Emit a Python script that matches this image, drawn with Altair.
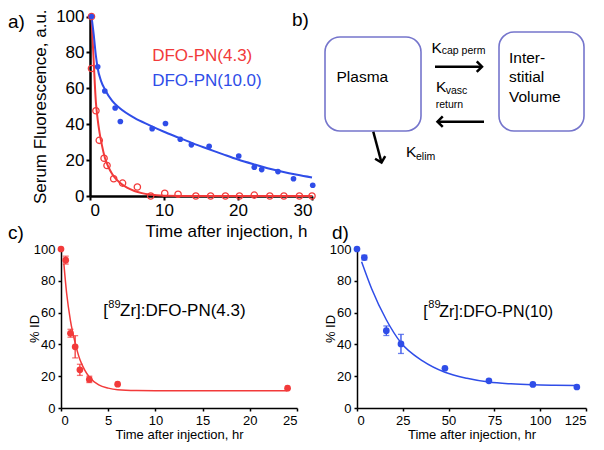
import altair as alt
import pandas as pd

FONT = "Liberation Sans"
RED = "#f23a3a"
BLUE = "#2f4de8"
BOXC = "#7575cc"
W, H = 588, 434  # whole drawing area (page minus 8px margin)

# ---------------- panel a: serum fluorescence ----------------
a_red_t = [0.2, 0.2, 0.8, 1.25, 1.9, 2.3, 3.2, 4.4, 6.4, 8.2, 10.1, 11.9, 14.3, 16.3, 18.3, 20.2, 22.2, 24.3, 26.2, 28.3, 30.0]
a_red_v = [100, 71, 47.5, 31, 21, 17, 9.6, 7.2, 5, 0, 1.5, 1, 0, 0, 0, 0, 0.5, 0, 0, 0, 0]
a_blue_t = [0.2, 1.04, 2.0, 3.4, 4.1, 8.4, 10.2, 12.2, 13.7, 16.1, 20.1, 22.2, 23.2, 25.4, 27.5, 30.1]
a_blue_v = [100, 72, 58.5, 49, 41.5, 37.5, 40.4, 31.6, 28.5, 27.7, 22.3, 16, 14.7, 13.6, 9.6, 6]
a_blue_fit_t = [0.2, 0.5, 0.8, 1.0, 1.5, 2.0, 3.0, 4.0, 6.0, 8.0, 10, 12, 14, 16, 18, 20, 22, 24, 26, 28, 30]
a_blue_fit_v = [100, 90, 78, 72, 64, 59.5, 53, 49, 43.5, 39.5, 35.8, 32.5, 29.2, 26.2, 23.2, 20.3, 17.8, 15.5, 13.5, 11.8, 10.3]
a_red_fit_t = [0.2, 0.5, 0.8, 1.0, 1.3, 1.6, 2.0, 2.5, 3.0, 3.5, 4.0, 5.0, 6.0, 7.0, 8.0, 9.0, 10, 15, 20, 25, 30]
a_red_fit_v = [100, 75, 52, 44, 35, 28.5, 21.5, 16, 12.3, 9.5, 7.5, 4.6, 2.8, 1.6, 0.8, 0.4, 0.2, 0, 0, 0, 0]
a_leg_text = ["DFO-PN(4.3)", "DFO-PN(10.0)"]
a_leg_t = [8.4, 8.4]
a_leg_v = [78, 64]
a_leg_color = [RED, BLUE]

# ---------------- panel b: compartment diagram (diagram units) ----------------
b_box_x1 = [325, 499]
b_box_x2 = [421, 584]
b_box_y1 = [37, 32]
b_box_y2 = [131, 131]
b_text = ["Plasma", "Inter-", "stitial", "Volume", "K", "K", "K"]
b_text_x = [336.5, 509, 509, 509, 431.5, 436, 406]
b_text_y = [82, 62.5, 81.5, 101.5, 52.5, 92, 157.3]
b_sub = ["cap perm", "vasc", "return", "elim"]
b_sub_x = [441.7, 445.7, 435.7, 416]
b_sub_y = [54, 93.5, 108.3, 159.5]
b_arr_x1 = [435, 484, 373.3]
b_arr_y1 = [66.7, 121.7, 131.7]
b_arr_x2 = [482, 437.5, 381.5]
b_arr_y2 = [66.7, 121.7, 162.5]
b_arr_angle = [0, 180, 75]

# ---------------- panel c ----------------
c_t = [0, 0.5, 1.0, 1.5, 2.0, 3.0, 6.0, 24]
c_v = [100, 93, 47, 38.5, 24, 18, 15, 12.5]
c_err = [0, 2.5, 2.5, 7, 3.5, 2, 0, 0]
c_fit_t = [0.3, 0.6, 1.0, 1.5, 2.0, 2.5, 3.0, 4.0, 5.0, 6.0, 8.0, 10, 15, 20, 24]
c_fit_v = [91, 72, 55, 41, 30.5, 24, 19.5, 14.5, 12.5, 11.5, 11, 10.9, 10.8, 10.8, 10.8]
c_lab_t = [4.48, 5.01, 6.25]
c_lab_v = [57.8, 62.6, 57.8]
c_lab = ["[", "89", "Zr]:DFO-PN(4.3)"]
c_lab_size = [17, 11, 17]

# ---------------- panel d ----------------
d_t = [0, 4, 16, 24, 48, 72, 96, 120]
d_v = [100, 94.6, 48.6, 40.3, 25, 17.1, 14.8, 13.2]
d_err = [0, 1.5, 3, 6, 0, 0, 0, 0]
d_fit_t = [2.5, 8, 16, 24, 36, 48, 60, 72, 84, 96, 108, 120]
d_fit_v = [92, 75, 55.5, 41, 29.5, 22.5, 18.7, 16.3, 15.2, 14.6, 14.3, 14.1]
d_lab_t = [36.2, 38.9, 44.9]
d_lab_v = [57.3, 62.6, 57.3]
d_lab = ["[", "89", "Zr]:DFO-PN(10)"]
d_lab_size = [16, 11, 16]

# panel letters
letters = ["a)", "b)", "c)", "d)"]
letter_px = [0, 284, 0, 324]
letter_py = [14, 12, 225, 225]


def axis(values, title, big, **kw):
    fs = 17 if big else 13
    return alt.Axis(values=values, title=title, grid=False, domainColor="black",
                    domainWidth=2.5 if big else 1.5, tickColor="black", tickWidth=2 if big else 1.5,
                    tickSize=4 if big else 3, labelFontSize=fs, labelColor="black", labelFont=FONT,
                    titleFont=FONT, titleFontSize=fs, titleFontWeight="normal", titleColor="black",
                    labelPadding=2 if big else 3, labelOverlap=False, **kw)


# ---- panel a  (plot box: x 82..304, y 8.5..188 in drawing coords)
sxa = alt.Scale(domain=[0, 30], range=[82, 304], nice=False)
sya = alt.Scale(domain=[0, 100], range=[188, 8.5], nice=False)
axa = axis([0, 10, 20, 30], "Time after injection, h", True, orient="bottom", offset=188 - H,
           titleX=218, titleY=40, titleBaseline="alphabetic")
aya = axis([0, 20, 40, 60, 80, 100], "Serum Fluorescence, a.u.", True, orient="left", offset=-82,
           titleX=-45, titleBaseline="alphabetic")
xa = alt.X("t:Q", scale=sxa, axis=axa)
ya = alt.Y("v:Q", scale=sya, axis=aya)

a_blue_fit = alt.Chart(pd.DataFrame({"t": a_blue_fit_t, "v": a_blue_fit_v})).mark_line(
    color=BLUE, strokeWidth=2, interpolate="monotone").encode(x=xa, y=ya)
a_red_fit = alt.Chart(pd.DataFrame({"t": a_red_fit_t, "v": a_red_fit_v})).mark_line(
    color=RED, strokeWidth=2, interpolate="monotone").encode(x=xa, y=ya)
a_blue_pts = alt.Chart(pd.DataFrame({"t": a_blue_t, "v": a_blue_v})).mark_point(
    shape="circle", filled=True, color=BLUE, size=32, opacity=1).encode(x=xa, y=ya)
a_red_pts = alt.Chart(pd.DataFrame({"t": a_red_t, "v": a_red_v})).mark_point(
    shape="circle", filled=False, color=RED, size=40, strokeWidth=1.3, opacity=1).encode(x=xa, y=ya)
a_leg = alt.Chart(pd.DataFrame({"t": a_leg_t, "v": a_leg_v, "lab": a_leg_text, "c": a_leg_color})).mark_text(
    font=FONT, fontSize=17, align="left", baseline="middle").encode(
    x=xa, y=ya, text="lab:N", color=alt.Color("c:N", scale=None))
panel_a = alt.layer(a_red_fit, a_blue_fit, a_red_pts, a_blue_pts, a_leg)

# ---- panel b (diagram units = page pixels)
sxb = alt.Scale(domain=[300, 600], range=[292, 592], nice=False, zero=False)
syb = alt.Scale(domain=[0, 200], range=[-8, 192], nice=False, zero=False)
b_boxes = alt.Chart(pd.DataFrame({"x": b_box_x1, "x2": b_box_x2, "y": b_box_y1, "y2": b_box_y2})).mark_rect(
    cornerRadius=15, fill="white", stroke=BOXC, strokeWidth=1.6).encode(
    x=alt.X("x:Q", scale=sxb, axis=None), x2="x2:Q", y=alt.Y("y:Q", scale=syb, axis=None), y2="y2:Q")
b_main = alt.Chart(pd.DataFrame({"x": b_text_x, "y": b_text_y, "lab": b_text})).mark_text(
    font=FONT, fontSize=15.5, align="left", baseline="alphabetic", color="black").encode(
    x=alt.X("x:Q", scale=sxb, axis=None), y=alt.Y("y:Q", scale=syb, axis=None), text="lab:N")
b_small = alt.Chart(pd.DataFrame({"x": b_sub_x, "y": b_sub_y, "lab": b_sub})).mark_text(
    font=FONT, fontSize=10.5, align="left", baseline="alphabetic", color="black").encode(
    x=alt.X("x:Q", scale=sxb, axis=None), y=alt.Y("y:Q", scale=syb, axis=None), text="lab:N")
arr_df = pd.DataFrame({"x": b_arr_x1, "y": b_arr_y1, "x2": b_arr_x2, "y2": b_arr_y2, "ang": b_arr_angle})
b_lines = alt.Chart(arr_df).mark_rule(color="black", strokeWidth=2.5).encode(
    x=alt.X("x:Q", scale=sxb, axis=None), y=alt.Y("y:Q", scale=syb, axis=None), x2="x2:Q", y2="y2:Q")
b_heads = alt.Chart(arr_df).mark_point(
    shape="M-1,-1L0,0L-1,1", filled=False, color="black", strokeWidth=2.5, size=110, opacity=1).encode(
    x=alt.X("x2:Q", scale=sxb, axis=None), y=alt.Y("y2:Q", scale=syb, axis=None),
    angle=alt.Angle("ang:Q", scale=None))
panel_b = alt.layer(b_boxes, b_lines, b_heads, b_main, b_small)


# ---- panels c, d
def pk_panel(t, v, err, fit_t, fit_v, lab_t, lab_v, lab, lab_size, color, xdom, xvals, xrange):
    sx = alt.Scale(domain=xdom, range=xrange, nice=False)
    sy = alt.Scale(domain=[0, 100], range=[400, 241], nice=False)
    ax = axis(xvals, "Time after injection, hr", False, orient="bottom", offset=400 - H,
              titleY=30, titleBaseline="alphabetic")
    ay = axis([0, 20, 40, 60, 80, 100], "% ID", False, orient="left", offset=-xrange[0],
              titleX=-23, titleBaseline="alphabetic")
    xs = alt.X("t:Q", scale=sx, axis=ax)
    ys = alt.Y("v:Q", scale=sy, axis=ay)
    df = pd.DataFrame({"t": t, "v": v, "err": err})
    df["lo"] = df["v"] - df["err"]
    df["hi"] = df["v"] + df["err"]
    edf = df[df["err"] > 0]
    fit = alt.Chart(pd.DataFrame({"t": fit_t, "v": fit_v})).mark_line(
        color=color, strokeWidth=1.5, interpolate="monotone").encode(x=xs, y=ys)
    bars = alt.Chart(edf).mark_rule(color=color, strokeWidth=1.3).encode(
        x=xs, y=alt.Y("lo:Q", scale=sy, axis=ay), y2="hi:Q")
    cap_lo = alt.Chart(edf).mark_tick(color=color, thickness=1.3, size=6, orient="horizontal").encode(
        x=xs, y=alt.Y("lo:Q", scale=sy, axis=ay))
    cap_hi = alt.Chart(edf).mark_tick(color=color, thickness=1.3, size=6, orient="horizontal").encode(
        x=xs, y=alt.Y("hi:Q", scale=sy, axis=ay))
    pts = alt.Chart(df).mark_point(shape="circle", filled=True, color=color, size=45, opacity=1).encode(
        x=xs, y=ys)
    ann = alt.Chart(pd.DataFrame({"t": lab_t, "v": lab_v, "lab": lab, "fs": lab_size})).mark_text(
        font=FONT, align="left", baseline="alphabetic", color="black").encode(
        x=xs, y=ys, text="lab:N", size=alt.Size("fs:Q", scale=None))
    return alt.layer(fit, bars, cap_lo, cap_hi, pts, ann)


panel_c = pk_panel(c_t, c_v, c_err, c_fit_t, c_fit_v, c_lab_t, c_lab_v, c_lab, c_lab_size, RED,
                   [0, 25], [0, 5, 10, 15, 20, 25], [53, 289])
panel_d = pk_panel(d_t, d_v, d_err, d_fit_t, d_fit_v, d_lab_t, d_lab_v, d_lab, d_lab_size, BLUE,
                   [0, 125], [0, 25, 50, 75, 100, 125], [349, 578])

panel_letters = alt.Chart(pd.DataFrame({"lab": letters, "px": letter_px, "py": letter_py})).mark_text(
    font=FONT, fontSize=19, align="left", baseline="middle", color="black").encode(
    text="lab:N",
    x=alt.X("px:Q", scale=alt.Scale(domain=[0, W], range=[0, W], nice=False), axis=None),
    y=alt.Y("py:Q", scale=alt.Scale(domain=[0, H], range=[0, H], nice=False), axis=None))

chart = alt.layer(panel_b, panel_a, panel_c, panel_d, panel_letters).resolve_scale(
    x="independent", y="independent").resolve_axis(x="independent", y="independent").properties(
    width=W, height=H, padding=0, autosize=alt.AutoSizeParams(type="none")
).configure_view(stroke=None)

chart.save("out.html", embed_options={"renderer": "svg", "actions": False})
